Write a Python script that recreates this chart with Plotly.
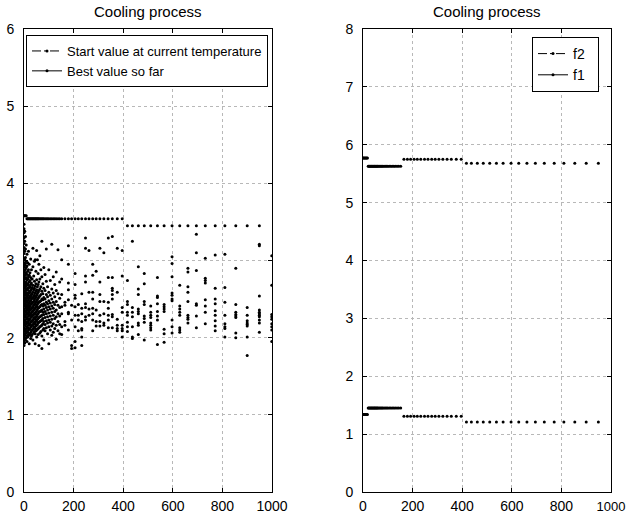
import plotly.graph_objects as go

# ---------------- data ----------------
# x positions of the temperature levels (iteration index)
temp_x = [0, 3, 6, 9, 12, 15, 18, 21, 24, 27, 30, 33, 36, 39, 42, 45, 48, 51, 54, 57, 60,
          64, 68, 72, 76, 80, 85, 90, 95, 100, 106, 112, 118, 124, 130, 137, 144, 152,
          165, 179, 192, 206, 219, 233, 248, 262, 277, 291, 306, 322, 339, 356, 376, 396,
          417, 437, 461, 485, 511, 538, 565, 597, 628, 661, 695, 731, 771, 810, 854, 900, 949]

# "Best value so far" (left) : level holds up to and including the break x
left_best_break = [9, 396, 949]
left_best_level = [3.58, 3.54, 3.45]

# right panel: f2 and f1 levels
f2_break = [18, 152, 396, 949]
f2_level = [5.77, 5.63, 5.75, 5.68]
f1_break = [18, 152, 396, 949]
f1_level = [1.34, 1.45, 1.31, 1.21]

# "Start value at current temperature": columns of values
start_col_x = [0, 3, 6, 9, 12, 15, 18, 21, 24, 27, 30, 33, 36, 39, 42, 45, 48, 51, 54, 57, 60,
               64, 68, 72, 76, 80, 85, 90, 95, 100, 106, 112, 118, 124, 130, 137, 144,
               152, 165, 179, 192, 206, 219, 233, 248, 262, 277, 291, 306, 322, 340, 356, 376, 396,
               417, 437, 461, 485, 511, 538, 565, 597, 628, 661, 695, 731, 771, 810, 854, 900, 949, 999]
start_col_y = [
    [3.47, 3.41, 3.36, 3.29, 3.22, 3.17, 3.09, 3.03, 2.97, 2.92, 2.85, 2.79, 2.73, 2.68, 2.61, 2.55, 2.50, 2.44, 2.37, 2.31, 2.26, 2.19, 2.13, 2.08, 2.02, 1.96, 1.90],
    [3.38, 3.25, 3.12, 3.01, 2.94, 2.87, 2.81, 2.76, 2.70, 2.64, 2.58, 2.52, 2.47, 2.41, 2.35, 2.29, 2.23, 2.17, 2.11, 2.05, 1.99, 1.93],
    [3.31, 3.15, 3.04, 2.96, 2.89, 2.83, 2.77, 2.71, 2.66, 2.60, 2.55, 2.49, 2.44, 2.38, 2.33, 2.27, 2.21, 2.15, 2.09, 2.03, 1.97],
    [3.20, 2.99, 2.91, 2.84, 2.78, 2.72, 2.67, 2.62, 2.56, 2.51, 2.46, 2.40, 2.35, 2.30, 2.24, 2.18, 2.12, 2.06, 2.00],
    [3.08, 2.93, 2.82, 2.75, 2.69, 2.63, 2.58, 2.53, 2.48, 2.42, 2.37, 2.32, 2.26, 2.20, 2.14, 2.08, 2.02, 1.95],
    [2.97, 2.86, 2.76, 2.70, 2.64, 2.57, 2.52, 2.46, 2.41, 2.36, 2.31, 2.25, 2.19, 2.13, 2.07, 2.01],
    [3.12, 2.88, 2.79, 2.68, 2.61, 2.55, 2.49, 2.44, 2.39, 2.33, 2.28, 2.22, 2.16, 2.10, 2.04],
    [2.95, 2.81, 2.72, 2.65, 2.58, 2.51, 2.45, 2.39, 2.34, 2.29, 2.23, 2.17, 2.11, 2.03, 1.92],
    [2.84, 2.74, 2.66, 2.59, 2.53, 2.47, 2.41, 2.36, 2.30, 2.24, 2.18, 2.12, 2.05],
    [3.02, 2.78, 2.69, 2.61, 2.54, 2.48, 2.43, 2.37, 2.31, 2.26, 2.20, 2.14, 2.07, 1.99],
    [2.88, 2.71, 2.63, 2.56, 2.50, 2.44, 2.38, 2.32, 2.27, 2.21, 2.15, 2.09, 2.02],
    [2.76, 2.65, 2.57, 2.51, 2.45, 2.39, 2.34, 2.28, 2.22, 2.16, 2.10, 2.04],
    [3.16, 2.92, 2.68, 2.59, 2.52, 2.46, 2.40, 2.35, 2.29, 2.23, 2.17, 2.11, 1.97],
    [2.80, 2.62, 2.54, 2.47, 2.42, 2.36, 2.30, 2.25, 2.19, 2.13, 2.06],
    [2.99, 2.73, 2.64, 2.55, 2.49, 2.43, 2.37, 2.32, 2.26, 2.20, 2.14, 2.08],
    [3.01, 2.67, 2.58, 2.51, 2.44, 2.38, 2.31, 2.24, 2.18, 2.12, 2.05, 1.92],
    [2.86, 2.70, 2.60, 2.53, 2.46, 2.40, 2.33, 2.27, 2.21, 2.15, 2.09],
    [3.13, 2.75, 2.62, 2.55, 2.48, 2.41, 2.35, 2.28, 2.22, 2.16, 2.10, 2.01],
    [3.01, 2.66, 2.57, 2.49, 2.43, 2.36, 2.30, 2.24, 2.17, 2.11],
    [2.83, 2.69, 2.59, 2.51, 2.45, 2.38, 2.31, 2.25, 2.19, 2.12, 2.04],
    [2.95, 2.72, 2.61, 2.53, 2.46, 2.39, 2.33, 2.26, 2.20, 2.13, 1.90],
    [3.06, 2.76, 2.63, 2.54, 2.47, 2.40, 2.34, 2.27, 2.21, 2.14, 2.06],
    [2.88, 2.66, 2.56, 2.48, 2.42, 2.35, 2.28, 2.22, 2.15, 2.08],
    [3.25, 2.79, 2.60, 2.50, 2.43, 2.36, 2.29, 2.23, 2.16, 2.02, 1.86],
    [2.70, 2.57, 2.49, 2.41, 2.33, 2.25, 2.18, 2.10],
    [2.91, 2.64, 2.52, 2.44, 2.37, 2.30, 2.21, 2.12, 1.97],
    [2.82, 2.61, 2.50, 2.42, 2.34, 2.26, 2.17, 2.09],
    [3.15, 2.73, 2.56, 2.46, 2.39, 2.31, 2.22, 2.13],
    [2.66, 2.53, 2.44, 2.36, 2.27, 2.19, 2.05],
    [2.88, 2.59, 2.48, 2.40, 2.32, 2.23, 2.14, 1.92],
    [2.74, 2.55, 2.45, 2.37, 2.28, 2.20, 2.10],
    [3.21, 2.63, 2.50, 2.41, 2.33, 2.24, 2.15, 2.03],
    [2.79, 2.58, 2.46, 2.38, 2.29, 2.18, 2.07],
    [2.69, 2.53, 2.43, 2.34, 2.25, 2.12],
    [2.85, 2.61, 2.47, 2.36, 2.27, 2.16, 1.98],
    [3.14, 2.57, 2.42, 2.31, 2.21, 2.09],
    [2.72, 2.51, 2.39, 2.28, 2.17, 2.05],
    [3.01, 2.76, 2.56, 2.40, 2.31, 2.14, 2.04],
    [2.46, 2.42, 2.21, 2.16],
    [3.19, 2.95, 2.71, 2.62, 2.49, 2.33, 2.31, 2.10],
    [2.42, 2.23, 1.90, 1.86],
    [2.83, 2.69, 2.55, 2.51, 2.40, 2.29, 2.14, 1.95, 1.87],
    [2.43, 2.29, 2.23, 2.09],
    [2.57, 2.38, 2.31, 2.21, 2.12, 2.10, 2.01, 1.90],
    [3.29, 3.16, 2.80, 2.72, 2.44, 2.39, 2.27, 2.23],
    [3.13, 2.59, 2.37, 2.29],
    [2.95, 2.81, 2.59, 2.50, 2.38, 2.31, 2.23, 2.09],
    [2.86, 2.36, 2.21, 2.15],
    [3.16, 2.72, 2.56, 2.47, 2.29, 2.21, 2.15],
    [3.10, 2.47, 2.31, 2.19, 2.16],
    [3.29, 2.78, 2.46, 2.38, 2.29, 2.23, 2.13],
    [3.31, 2.78, 2.64, 2.61, 2.56, 2.50, 2.30, 2.27, 2.13],
    [3.16, 2.59, 2.24, 2.16, 2.12, 2.09],
    [3.13, 2.80, 2.39, 2.33, 2.16, 2.12, 2.09, 2.01],
    [2.74, 2.47, 2.43, 2.33, 2.29, 2.20, 2.14, 2.08],
    [3.25, 2.39, 2.33, 2.27, 2.14, 2.01, 1.99],
    [2.92, 2.63, 2.56, 2.37, 2.34, 2.31, 2.19, 2.16, 2.04],
    [2.83, 2.70, 2.47, 2.43, 2.28, 2.25, 2.20, 1.97],
    [2.41, 2.33, 2.29, 2.26, 2.19, 2.16, 2.13, 2.10],
    [2.78, 2.54, 2.52, 2.44, 2.34, 2.28, 2.23, 1.91],
    [2.43, 2.40, 2.37, 2.34, 2.11, 2.05, 1.94],
    [3.05, 2.96, 2.79, 2.58, 2.55, 2.50, 2.48, 2.23, 2.14, 2.06],
    [2.68, 2.41, 2.37, 2.33, 2.29, 2.13, 2.10, 2.07],
    [2.90, 2.85, 2.66, 2.59, 2.47, 2.29, 2.26, 2.24, 2.19],
    [3.34, 3.10, 2.87, 2.44, 2.42, 2.28, 2.13],
    [3.03, 2.77, 2.74, 2.71, 2.49, 2.41, 2.33, 2.18],
    [3.07, 2.64, 2.50, 2.44, 2.35, 2.29, 2.22, 2.15, 2.09],
    [3.08, 2.65, 2.46, 2.29, 2.18, 2.14, 2.12, 2.01],
    [2.90, 2.43, 2.33, 2.30, 2.28, 2.26, 2.06, 2.00],
    [2.39, 2.29, 2.22, 2.19, 2.17, 2.15, 2.01, 1.77],
    [3.21, 3.19, 2.54, 2.36, 2.33, 2.31, 2.29, 2.27, 2.23, 2.19, 2.07],
    [3.06, 2.68, 2.30, 2.27, 2.24, 2.18, 2.14, 2.10, 1.95],
]

x_ticks = [0, 200, 400, 600, 800, 1000]
x_tick_text = ["0", "200", "400", "600", "800", "1000"]
left_y_ticks = [0, 1, 2, 3, 4, 5, 6]
right_y_ticks = [0, 1, 2, 3, 4, 5, 6, 7, 8]
title_text = "Cooling process"


def step_values(xs, breaks, levels):
    out = []
    for x in xs:
        for b, lv in zip(breaks, levels):
            if x <= b:
                out.append(lv)
                break
    return out


sx, sy = [], []
for x, ys in zip(start_col_x, start_col_y):
    for y in ys:
        sx.append(x)
        sy.append(y)

left_best = step_values(temp_x, left_best_break, left_best_level)
f2_vals = step_values(temp_x, f2_break, f2_level)
f1_vals = step_values(temp_x, f1_break, f1_level)

FONT = "Liberation Sans, Arial, Helvetica, sans-serif"
BLACK = "#000000"
MS = 3
NB = "\u00a0"

fig = go.Figure()

# left panel data
fig.add_trace(go.Scatter(x=sx, y=sy, mode="markers", marker=dict(color=BLACK, size=MS),
                         showlegend=False, xaxis="x", yaxis="y", hoverinfo="x+y"))
fig.add_trace(go.Scatter(x=temp_x, y=left_best, mode="markers", marker=dict(color=BLACK, size=MS),
                         showlegend=False, xaxis="x", yaxis="y"))
# left legend entries
fig.add_trace(go.Scatter(x=[None], y=[None], mode="lines+markers", name="Start value at current temperature",
                         line=dict(color=BLACK, width=1, dash="dashdot"), marker=dict(color=BLACK, size=3),
                         xaxis="x", yaxis="y", legend="legend"))
fig.add_trace(go.Scatter(x=[None], y=[None], mode="lines+markers", name="Best value so far",
                         line=dict(color=BLACK, width=1), marker=dict(color=BLACK, size=3),
                         xaxis="x", yaxis="y", legend="legend"))

# right panel data
fig.add_trace(go.Scatter(x=temp_x, y=f2_vals, mode="markers", marker=dict(color=BLACK, size=MS),
                         showlegend=False, xaxis="x2", yaxis="y2"))
fig.add_trace(go.Scatter(x=temp_x, y=f1_vals, mode="markers", marker=dict(color=BLACK, size=MS),
                         showlegend=False, xaxis="x2", yaxis="y2"))
fig.add_trace(go.Scatter(x=[None], y=[None], mode="lines+markers", name="f2" + NB * 2,
                         line=dict(color=BLACK, width=1, dash="dashdot"), marker=dict(color=BLACK, size=3),
                         xaxis="x2", yaxis="y2", legend="legend2"))
fig.add_trace(go.Scatter(x=[None], y=[None], mode="lines+markers", name="f1" + NB * 2,
                         line=dict(color=BLACK, width=1), marker=dict(color=BLACK, size=3),
                         xaxis="x2", yaxis="y2", legend="legend2"))

W, H = 626, 517
left_dom = [24 / W, 272 / W]
right_dom = [363 / W, 611 / W]
y_dom = [1 - 492 / H, 1 - 29 / H]
TICKFONT = dict(family=FONT, size=14, color=BLACK)

axis_common = dict(showline=True, linecolor=BLACK, linewidth=1, mirror="ticks",
                   ticks="inside", ticklen=4, tickcolor=BLACK, automargin=False,
                   ticklabeloverflow="allow",
                   showgrid=True, gridcolor="#b8b8b8", gridwidth=1, griddash="dot",
                   zeroline=False, tickfont=TICKFONT)

# right x-axis: the last label sits at the page edge; a slightly smaller size keeps it inside the div
right_tick_text = x_tick_text[:-1] + ["<span style='font-size:13px'>" + x_tick_text[-1] + "</span>"]

fig.update_layout(
    width=W, height=H, margin=dict(l=0, r=0, t=0, b=0, autoexpand=False),
    paper_bgcolor="white", plot_bgcolor="white",
    font=dict(family=FONT, color=BLACK),
    xaxis=dict(domain=left_dom, range=[0, 1000], tickvals=x_ticks, ticktext=x_tick_text, anchor="y",
               ticklabelstandoff=1, **axis_common),
    yaxis=dict(domain=y_dom, range=[0, 6], tickvals=left_y_ticks, anchor="x",
               ticklabelstandoff=6, **axis_common),
    xaxis2=dict(domain=right_dom, range=[0, 1000], tickvals=x_ticks, ticktext=right_tick_text, anchor="y2",
                ticklabelstandoff=1, **axis_common),
    yaxis2=dict(domain=y_dom, range=[0, 8], tickvals=right_y_ticks, anchor="x2",
                ticklabelstandoff=6, **axis_common),
    legend=dict(x=26 / W, y=1 - 35 / H, xanchor="left", yanchor="top", xref="paper", yref="paper",
                bordercolor=BLACK, borderwidth=1, bgcolor="white", itemwidth=30,
                font=dict(family=FONT, size=13, color=BLACK), tracegroupgap=0),
    legend2=dict(x=532 / W, y=1 - 37 / H, xanchor="left", yanchor="top", xref="paper", yref="paper",
                 bordercolor=BLACK, borderwidth=1, bgcolor="white", itemwidth=30,
                 font=dict(family=FONT, size=14, color=BLACK), tracegroupgap=0),
    annotations=[
        dict(text=title_text, x=(left_dom[0] + left_dom[1]) / 2, y=1 - 12 / H, xref="paper", yref="paper",
             showarrow=False, xanchor="center", yanchor="middle", font=dict(family=FONT, size=15, color=BLACK)),
        dict(text=title_text, x=(right_dom[0] + right_dom[1]) / 2, y=1 - 12 / H, xref="paper", yref="paper",
             showarrow=False, xanchor="center", yanchor="middle", font=dict(family=FONT, size=15, color=BLACK)),
    ],
)

fig.write_html("out.html")
